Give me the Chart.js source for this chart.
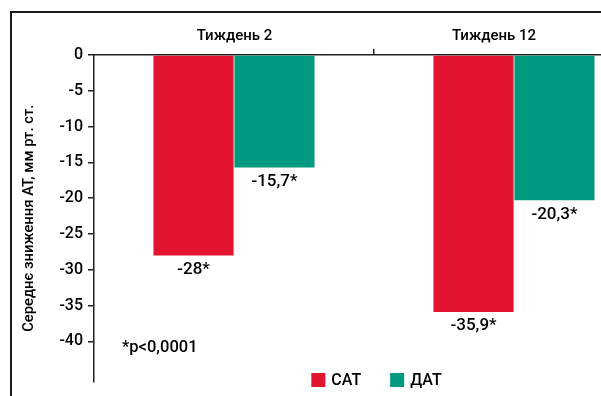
<!DOCTYPE html>
<html>
<head>
<meta charset="utf-8">
<script src="https://cdn.jsdelivr.net/npm/chart.js@4"></script>
<style>
  html, body { margin: 0; padding: 0; background: #fff; overflow: hidden; width: 601px; height: 396px; }
  #wrap { position: relative; width: 601px; height: 396px; overflow: hidden; }
  #frame { position: absolute; left: 10px; top: 11px; width: 700px; height: 400px;
           border-left: 2px solid #1a1a1a; border-top: 2px solid #1a1a1a; }
  canvas { position: absolute; left: 0; top: 0; }
</style>
</head>
<body>
<div id="wrap">
  <div id="frame"></div>
  <canvas id="c" width="680" height="396"></canvas>
</div>
<script>
// Weeks of treatment
const categories = ['Тиждень 2', 'Тиждень 12'];
// Mean reduction of systolic / diastolic pressure, mm Hg
const sbpValues = [-28, -35.9];
const dbpValues = [-15.7, -20.3];
const seriesNames = ['САТ', 'ДАТ'];
const yTicks = [0, -5, -10, -15, -20, -25, -30, -35, -40];
const footnote = '*p<0,0001';
const yTitle = 'Середнє зниження АТ, мм рт. ст.';

const RED = '#E2142F';
const TEAL = '#009A80';
const INK = '#000';
const FONT = 'Roboto';
const W = 500;

// Value captions under each bar
const valueLabels = {
  id: 'valueLabels',
  afterDatasetsDraw(chart) {
    const ctx = chart.ctx;
    ctx.save();
    ctx.font = W + ' 17px "' + FONT + '"';
    ctx.fillStyle = INK;
    ctx.textAlign = 'center';
    ctx.textBaseline = 'middle';
    chart.data.datasets.forEach((ds, di) => {
      chart.getDatasetMeta(di).data.forEach((el, i) => {
        const txt = String(ds.data[i]).replace('.', ',') + '*';
        ctx.fillText(txt, el.x, el.y + 14);
      });
    });
    ctx.restore();
  }
};

// Week headings above the top axis (the second one sits a bit left of its bars)
const headingShift = [0.5, -20];
const headings = {
  id: 'headings',
  afterDraw(chart) {
    const ctx = chart.ctx;
    const xs = chart.scales.x;
    ctx.save();
    ctx.font = W + ' 15px "' + FONT + '"';
    ctx.fillStyle = INK;
    ctx.textAlign = 'center';
    ctx.textBaseline = 'alphabetic';
    chart.data.labels.forEach((lab, i) => {
      ctx.fillText(lab, xs.getPixelForValue(i) + headingShift[i], xs.bottom - 15);
    });
    ctx.restore();
  }
};

// Footnote and legend row
const extras = {
  id: 'extras',
  afterDraw(chart) {
    const ctx = chart.ctx;
    const area = chart.chartArea;
    const ys = chart.scales.y;
    ctx.save();
    ctx.fillStyle = INK;
    ctx.font = W + ' 16.5px "' + FONT + '"';
    ctx.textAlign = 'left';
    ctx.textBaseline = 'alphabetic';
    ctx.fillText(footnote, area.left + 28, ys.getPixelForValue(-40) + 11);

    // legend
    ctx.font = W + ' 16px "' + FONT + '"';
    ctx.textBaseline = 'middle';
    const box = 14, gapText = 6, gapItem = 29;
    const ds = chart.data.datasets;
    let total = 0;
    ds.forEach((d, i) => {
      total += box + gapText + ctx.measureText(d.label).width + (i < ds.length - 1 ? gapItem : 0);
    });
    let x = area.left + 282.5 - total / 2;
    const cy = 380;
    ds.forEach(d => {
      ctx.fillStyle = d.backgroundColor;
      ctx.fillRect(x, cy - box / 2, box, box);
      ctx.fillStyle = INK;
      ctx.fillText(d.label, x + box + gapText, cy + 1);
      x += box + gapText + ctx.measureText(d.label).width + gapItem;
    });
    ctx.restore();
  }
};

new Chart(document.getElementById('c'), {
  type: 'bar',
  data: {
    labels: categories,
    datasets: [
      { label: seriesNames[0], data: sbpValues, backgroundColor: RED },
      { label: seriesNames[1], data: dbpValues, backgroundColor: TEAL }
    ]
  },
  options: {
    responsive: false,
    devicePixelRatio: 1,
    animation: false,
    events: [],
    datasets: { bar: { categoryPercentage: 0.578, barPercentage: 0.99 } },
    layout: { padding: { left: 0, top: 0, right: 26, bottom: 14 } },
    plugins: { legend: { display: false }, tooltip: { enabled: false } },
    scales: {
      x: {
        position: 'top',
        offset: true,
        border: { display: true, color: '#222', width: 1.5 },
        grid: {
          offset: true,
          drawOnChartArea: false,
          drawTicks: true,
          tickLength: 6,
          lineWidth: 1.5,
          color: ctx => ctx.index === 1 ? '#222' : 'rgba(0,0,0,0)'
        },
        ticks: { display: false },
        afterFit: s => { s.height = 55; }
      },
      y: {
        min: -45.6,
        max: 0,
        border: { display: true, color: '#222', width: 1.5 },
        grid: { drawOnChartArea: false, drawTicks: true, tickLength: 6, lineWidth: 1.5, color: '#222' },
        ticks: { stepSize: 5, color: INK, padding: 5, font: { family: FONT, size: 16, weight: W } },
        afterBuildTicks: s => { s.ticks = yTicks.map(v => ({ value: v })); },
        title: { display: true, text: yTitle, color: INK, padding: { top: 20, bottom: 0 },
                 font: { family: FONT, size: 14.8, weight: W } },
        afterFit: s => { s.width = 94; }
      }
    }
  },
  plugins: [valueLabels, headings, extras]
});
</script>
</body>
</html>
